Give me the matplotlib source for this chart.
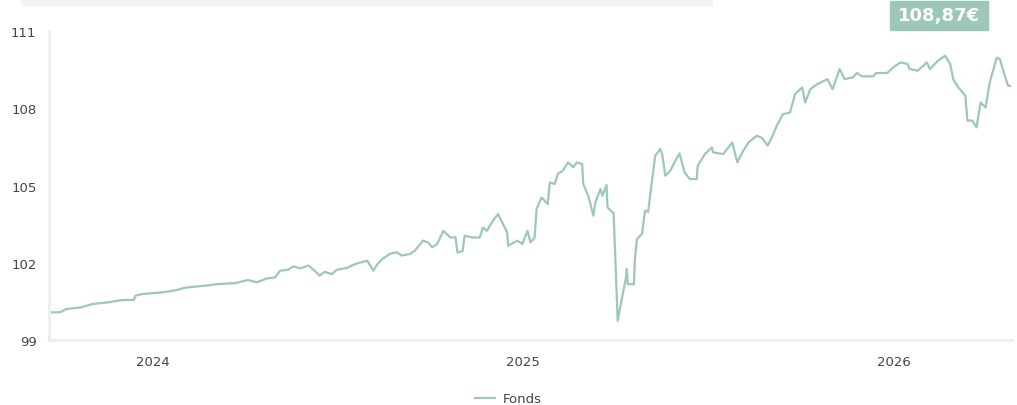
import numpy as np
import pandas as pd
import matplotlib
matplotlib.use("Agg")
import matplotlib.pyplot as plt
from matplotlib.patches import Rectangle

# données (jours depuis le 22/09/2023, valeur du fonds)
start = pd.Timestamp("2023-09-22")
days = [0, 10, 16, 31, 42, 57, 71, 83, 84, 92, 111, 125, 133, 153, 165, 183, 195, 204,
        214, 222, 227, 235, 240, 247, 255, 261, 266, 271, 278, 283, 293, 301, 313, 319,
        323, 328, 335, 342, 347, 355, 360, 368, 373, 377, 382, 388, 395, 400, 402, 407,
        409, 417, 424, 427, 431, 437, 442, 447, 451, 452, 461, 466, 471, 474, 478, 480,
        483, 485, 491, 493, 498, 501, 506, 511, 516, 520, 525, 526, 531, 536, 538, 543,
        545, 549, 550, 555, 556, 560, 564, 568, 569, 570, 576, 577, 579, 584, 587, 590,
        597, 602, 604, 607, 612, 617, 621, 626, 631, 638, 639, 646, 653, 654, 664, 673,
        678, 683, 689, 697, 702, 708, 712, 717, 723, 730, 735, 742, 745, 750, 757, 767,
        772, 779, 784, 792, 796, 801, 812, 815, 826, 832, 839, 846, 848, 856, 865, 868,
        876, 883, 888, 891, 896, 903, 905, 910, 914, 918, 923, 927, 934, 937, 942, 945, 947]
values = [100.07, 100.08, 100.2, 100.27, 100.40, 100.46, 100.55, 100.56, 100.72, 100.79,
          100.85, 100.94, 101.03, 101.11, 101.17, 101.21, 101.33, 101.24, 101.39, 101.43,
          101.69, 101.73, 101.86, 101.78, 101.89, 101.69, 101.5, 101.65, 101.56, 101.73,
          101.8, 101.95, 102.08, 101.69, 101.95, 102.15, 102.34, 102.41, 102.28, 102.34,
          102.47, 102.86, 102.79, 102.6, 102.73, 103.24, 102.98, 102.99, 102.4, 102.45,
          103.05, 102.98, 102.98, 103.37, 103.24, 103.64, 103.89, 103.5, 103.18, 102.66,
          102.86, 102.73, 103.24, 102.79, 102.98, 104.09, 104.35, 104.53, 104.28, 105.12,
          105.06, 105.45, 105.58, 105.9, 105.71, 105.9, 105.83, 105.06, 104.6, 103.83,
          104.35, 104.86, 104.6, 105.02, 104.15, 103.95, 103.95, 99.75, 100.59, 101.37,
          101.76, 101.17, 101.17, 102.15, 102.92, 103.12, 104.03, 103.97, 106.16, 106.42,
          106.2, 105.38, 105.58, 105.97, 106.25, 105.51, 105.25, 105.25, 105.77, 106.22,
          106.48, 106.29, 106.22, 106.67, 105.9, 106.29, 106.67, 106.93, 106.86, 106.55,
          106.86, 107.32, 107.77, 107.83, 108.55, 108.81, 108.22, 108.74, 108.94, 109.13,
          108.74, 109.52, 109.13, 109.2, 109.37, 109.24, 109.24, 109.37, 109.37, 109.59,
          109.78, 109.72, 109.52, 109.46, 109.78, 109.52, 109.85, 110.04, 109.72, 109.13,
          108.81, 108.49, 107.52, 107.52, 107.26, 108.22, 108.03, 109.0, 109.97, 109.9,
          109.27, 108.88, 108.87]
y_ticks = [99, 102, 105, 108, 111]
year_ticks = ["2024-01-01", "2025-01-01", "2026-01-01"]
year_labels = ["2024", "2025", "2026"]
last_label = "108,87€"

green = "#9dc8b5"
text_col = "#444444"
plt.rcParams["font.family"] = ["DejaVu Sans"]

dates = start + pd.to_timedelta(days, unit="D")

fig = plt.figure(figsize=(10.17, 4.06), dpi=100)
ax = fig.add_axes([49 / 1017, 1 - 341 / 406, (1012 - 49) / 1017, (341 - 32) / 406])

ax.plot(dates, values, color=green, lw=1.6, label="Fonds")

ax.set_ylim(99, 111)
ax.set_yticks(y_ticks)
ax.set_yticklabels([str(v) for v in y_ticks])
ax.set_xlim(start - pd.Timedelta(days=1), start + pd.Timedelta(days=949))
ax.set_xticks(pd.to_datetime(year_ticks))
ax.set_xticklabels(year_labels)
ax.tick_params(length=0, labelsize=9.5, colors=text_col)
ax.tick_params(axis="y", pad=9)
ax.tick_params(axis="x", pad=11)

for s in ["top", "right"]:
    ax.spines[s].set_visible(False)
for s in ["left", "bottom"]:
    ax.spines[s].set_color("#eeeeee")
    ax.spines[s].set_linewidth(2.2)

# légende en bas
fig.legend(loc="center", bbox_to_anchor=(0.5, 1 - 400 / 406), frameon=False,
           fontsize=9.5, labelcolor=text_col, handlelength=1.5, handletextpad=0.6)

# bandeau gris en haut
fig.patches.append(Rectangle((22 / 1017, 1 - 6 / 406), (712 - 22) / 1017, 6 / 406,
                             transform=fig.transFigure, color="#f0f4f2", zorder=0))
# étiquette de la dernière valeur
fig.patches.append(Rectangle((890 / 1017, 1 - 31 / 406), (988 - 890) / 1017, 29 / 406,
                             transform=fig.transFigure, color=green, zorder=1))
fig.text(939 / 1017, 1 - 16.5 / 406, last_label, color="white", fontsize=13,
         fontweight="bold", ha="center", va="center")

fig.savefig("out.png", dpi=100)
